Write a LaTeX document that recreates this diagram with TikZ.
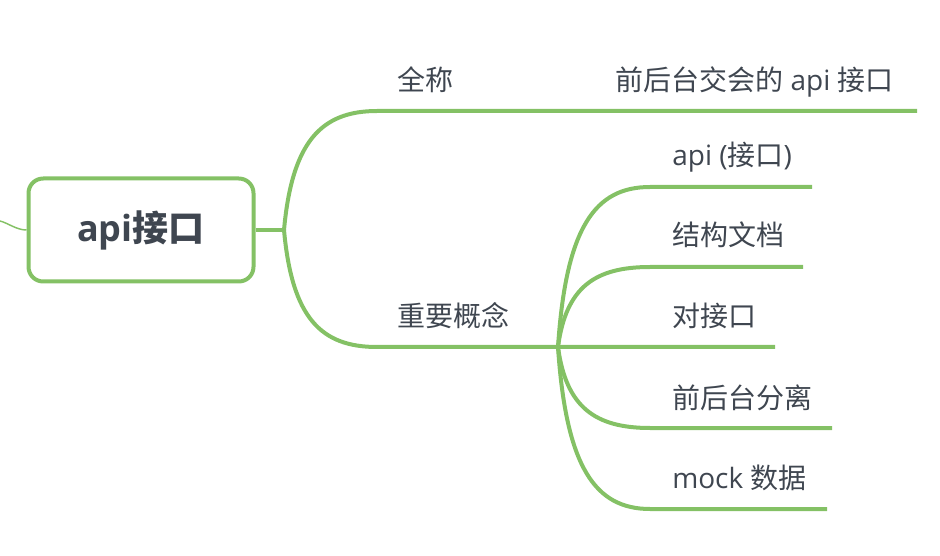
\documentclass[tikz,border=0pt]{standalone}
\usepackage{fontspec}
\setmainfont{Open Sans}
\newfontfamily\cjk{Noto Sans CJK SC}
\definecolor{branch}{RGB}{132,193,101}
\definecolor{inkc}{RGB}{63,70,80}
\begin{document}
\begin{tikzpicture}[x=0.75pt,y=-0.75pt,
  conn/.style={draw=branch,line width=3pt},
  thinconn/.style={draw=branch,line width=1.1pt},
  lbl/.style={anchor=base west,inner sep=0pt,text=inkc,font=\fontsize{21}{25}\selectfont},
  rootbox/.style={draw=branch,line width=3pt,rounded corners=11pt,minimum width=168.75pt,minimum height=77.25pt,fill=white,text=inkc,font=\fontsize{27}{32}\selectfont\bfseries}]
\useasboundingbox (0,0) rectangle (940,556);

\node[rootbox] (root) at (141,230) {api{\cjk 接口}};

\node[lbl] (quan) at (397,91) {\cjk 全称};
\node[lbl] (full) at (615,91) {{\cjk 前后台交会的} api {\cjk 接口}};
\node[lbl] (zhong) at (397,327) {\cjk 重要概念};
\node[lbl] (c1) at (672,166) {api ({\cjk 接口})};
\node[lbl] (c2) at (672,246) {\cjk 结构文档};
\node[lbl] (c3) at (672,327) {\cjk 对接口};
\node[lbl] (c4) at (672,408) {\cjk 前后台分离};
\node[lbl] (c5) at (672,488) {mock {\cjk 数据}};

\coordinate (lstub) at (0,221);
\coordinate (j1) at (284,230);
\coordinate (quanL) at (377,111);
\coordinate (quanR) at (597,111);
\coordinate (fullR) at (917,111);
\coordinate (zhongL) at (377,347);
\coordinate (j2) at (558,347);
\coordinate (c1L) at (650,187);
\coordinate (c1R) at (812,187);
\coordinate (c2L) at (650,267);
\coordinate (c2R) at (803,267);
\coordinate (c3R) at (775,347);
\coordinate (c4L) at (650,428);
\coordinate (c4R) at (832,428);
\coordinate (c5L) at (650,509);
\coordinate (c5R) at (827,509);

\draw[thinconn] (root.west) .. controls +(-10,0) and +(8,2) .. (lstub);
\draw[conn] (root.east) -- (j1);
\draw[conn] (j1) .. controls +(8,-88) and +(-56,0) .. (quanL) -- (quanR) -- (fullR);
\draw[conn] (j1) .. controls +(8,88) and +(-56,0) .. (zhongL) -- (j2) -- (c3R);
\draw[conn] (j2) .. controls +(8,-120) and +(-55,0) .. (c1L) -- (c1R);
\draw[conn] (j2) .. controls +(8,-60) and +(-55,0) .. (c2L) -- (c2R);
\draw[conn] (j2) .. controls +(8,60) and +(-55,0) .. (c4L) -- (c4R);
\draw[conn] (j2) .. controls +(8,120) and +(-55,0) .. (c5L) -- (c5R);
\end{tikzpicture}
\end{document}
